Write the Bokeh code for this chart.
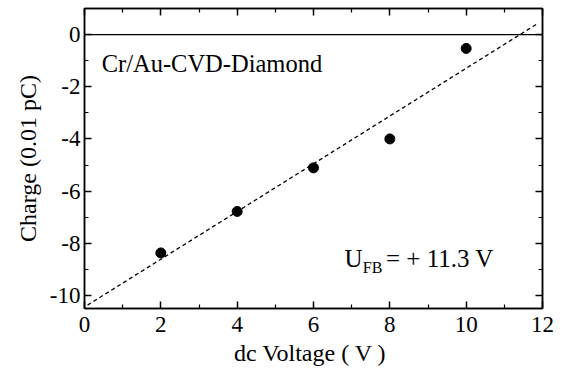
from bokeh.plotting import figure
from bokeh.models import Range1d, LinearAxis, Span, Label, FixedTicker, CustomJSTickFormatter
from bokeh.embed import file_html
from bokeh.resources import INLINE

# data
voltage = [2, 4, 6, 8, 10]
charge = [-8.37, -6.78, -5.11, -4.0, -0.53]
fit_x = [0.08, 11.87]
fit_y = [-10.37, 0.42]
x_ticks = [0, 2, 4, 6, 8, 10, 12]
y_ticks = [0, -2, -4, -6, -8, -10]
x_minor = [1, 3, 5, 7, 9, 11]
y_minor = [1, -1, -3, -5, -7, -9]

FONT = "Liberation Serif"

p = figure(frame_width=458, frame_height=300, output_backend="svg", toolbar_location=None,
           x_range=Range1d(0, 12), y_range=Range1d(-10.5, 1.0),
           min_border_left=84, min_border_right=14, min_border_top=8, min_border_bottom=58)
p.background_fill_color = "white"
p.border_fill_color = "white"
p.grid.visible = False
p.outline_line_color = "black"
p.outline_line_width = 1.5

plain = CustomJSTickFormatter(code="return tick.toString()")
for ax, ticks, minor in ((p.xaxis[0], x_ticks, x_minor), (p.yaxis[0], y_ticks, y_minor)):
    ax.ticker = FixedTicker(ticks=ticks, minor_ticks=minor)
    ax.formatter = plain
    ax.major_tick_in = 7
    ax.major_tick_out = 0
    ax.minor_tick_in = 4
    ax.minor_tick_out = 0
    ax.axis_line_width = 1.5
    ax.major_tick_line_width = 1.5
    ax.minor_tick_line_width = 1.2
    ax.major_label_text_font = FONT
    ax.major_label_text_font_size = "23px"
    ax.major_label_text_color = "black"
    ax.axis_label_text_font = FONT
    ax.axis_label_text_font_size = "24px"
    ax.axis_label_text_font_style = "normal"
    ax.axis_label_text_color = "black"

p.xaxis[0].axis_label = "dc  Voltage ( V )"
p.yaxis[0].axis_label = "Charge (0.01 pC)"
p.xaxis[0].major_label_standoff = 8
p.xaxis[0].axis_label_standoff = 5
p.yaxis[0].major_label_standoff = 4
p.yaxis[0].axis_label_standoff = 6

blank = CustomJSTickFormatter(code="return ''")
for loc, ticks, minor in (("above", x_ticks, x_minor), ("right", y_ticks, y_minor)):
    ax = LinearAxis(ticker=FixedTicker(ticks=ticks, minor_ticks=minor), formatter=blank)
    ax.major_tick_in = 7
    ax.major_tick_out = 0
    ax.minor_tick_in = 4
    ax.minor_tick_out = 0
    ax.axis_line_width = 1.5
    ax.major_tick_line_width = 1.5
    ax.minor_tick_line_width = 1.2
    ax.major_label_standoff = 0
    ax.major_label_text_font_size = "0px"
    p.add_layout(ax, loc)

p.add_layout(Span(location=0, dimension="width", line_color="black", line_width=1.3))
p.line(fit_x, fit_y, line_color="black", line_width=1.3, line_dash="4 3")
p.scatter(voltage, charge, size=10, marker="circle", fill_color="black", line_color="black")

p.add_layout(Label(x=0.45, y=-1.09, text="Cr/Au-CVD-Diamond", text_font=FONT,
                   text_font_size="24.5px", text_color="black", text_baseline="alphabetic"))
p.add_layout(Label(x=6.81, y=-8.59, text="U", text_font=FONT,
                   text_font_size="25px", text_color="black", text_baseline="alphabetic"))
p.add_layout(Label(x=7.29, y=-8.92, text="FB", text_font=FONT,
                   text_font_size="16px", text_color="black", text_baseline="alphabetic"))
p.add_layout(Label(x=7.90, y=-8.59, text="= + 11.3 V", text_font=FONT,
                   text_font_size="25px", text_color="black", text_baseline="alphabetic"))

open("out.html", "w").write(file_html(p, INLINE))
